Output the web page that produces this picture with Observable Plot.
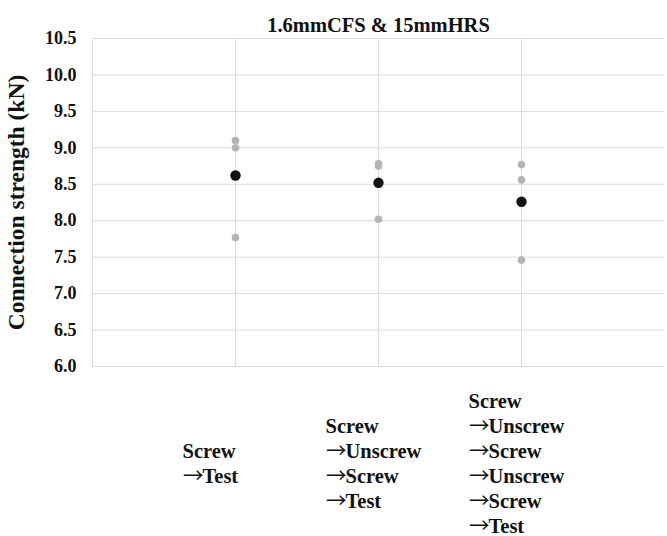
<!DOCTYPE html>
<html>
<head>
<meta charset="utf-8">
<script src="https://cdn.jsdelivr.net/npm/d3@7"></script>
<script src="https://cdn.jsdelivr.net/npm/@observablehq/plot@0.6"></script>
<style>
  body { margin: 0; background: #fff; }
  @font-face {
    font-family: "WideArrow";
    src: local("Noto Sans CJK SC"), local("NotoSansCJKsc-Regular"), local("Noto Sans CJK SC Regular"), local("DejaVu Sans ExtraLight"), local("DejaVuSans-ExtraLight"), local("DejaVu Sans"), local("DejaVuSans");
    font-weight: 100 900;
    unicode-range: U+2192;
  }
</style>
</head>
<body>
<div id="chart"></div>
<script>
const title = "1.6mmCFS & 15mmHRS";
const yLabel = "Connection strength (kN)";
const categories = [
  "Screw\n→Test",
  "Screw\n→Unscrew\n→Screw\n→Test",
  "Screw\n→Unscrew\n→Screw\n→Unscrew\n→Screw\n→Test"
];
const trials1 = [9.10, 9.00, 7.77];
const trials2 = [8.78, 8.75, 8.02];
const trials3 = [8.77, 8.56, 7.46];
const means = [8.62, 8.52, 8.26];
const yTicks = [6.0, 6.5, 7.0, 7.5, 8.0, 8.5, 9.0, 9.5, 10.0, 10.5];

const trials = [trials1, trials2, trials3].flatMap((vals, i) => vals.map(v => ({x: i + 1, y: v})));
const meanData = means.map((v, i) => ({x: i + 1, y: v}));
const catData = categories.map((c, i) => ({x: i + 1, label: c}));

const font = "'Liberation Serif', 'Times New Roman', serif";

const chart = Plot.plot({
  width: 667,
  height: 536,
  marginTop: 38,
  marginBottom: 170,
  marginLeft: 92,
  marginRight: 3,
  style: {fontFamily: font, fontWeight: "bold", color: "#111", background: "#fff"},
  x: {domain: [0, 4], axis: null},
  y: {domain: [6, 10.5]},
  marks: [
    Plot.ruleY(yTicks, {stroke: "#dcdcdc", strokeWidth: 1}),
    Plot.ruleX([0, 1, 2, 3], {stroke: "#dcdcdc", strokeWidth: 1}),
    Plot.axisY({ticks: yTicks, tickFormat: d3.format(".1f"), tickSize: 0, tickPadding: 16, fontSize: 18, label: null}),
    Plot.dot(trials, {x: "x", y: "y", r: 3.8, fill: "#b4b4b4"}),
    Plot.dot(meanData, {x: "x", y: "y", r: 5.2, fill: "#111"}),
    Plot.text(catData, {x: "x", text: "label", frameAnchor: "bottom", dy: 96, dx: -53, textAnchor: "start", lineAnchor: "middle", lineHeight: 1.22, fontSize: 20.5, fill: "#111", fontFamily: "WideArrow, 'Liberation Serif', serif"}),
    Plot.text([title], {frameAnchor: "top", dy: -21, fontSize: 20.5, fill: "#111"}),
    Plot.text([yLabel], {frameAnchor: "left", textAnchor: "middle", rotate: -90, dx: -76, fontSize: 23.5, fill: "#111"})
  ]
});
document.getElementById("chart").appendChild(chart);
</script>
</body>
</html>
